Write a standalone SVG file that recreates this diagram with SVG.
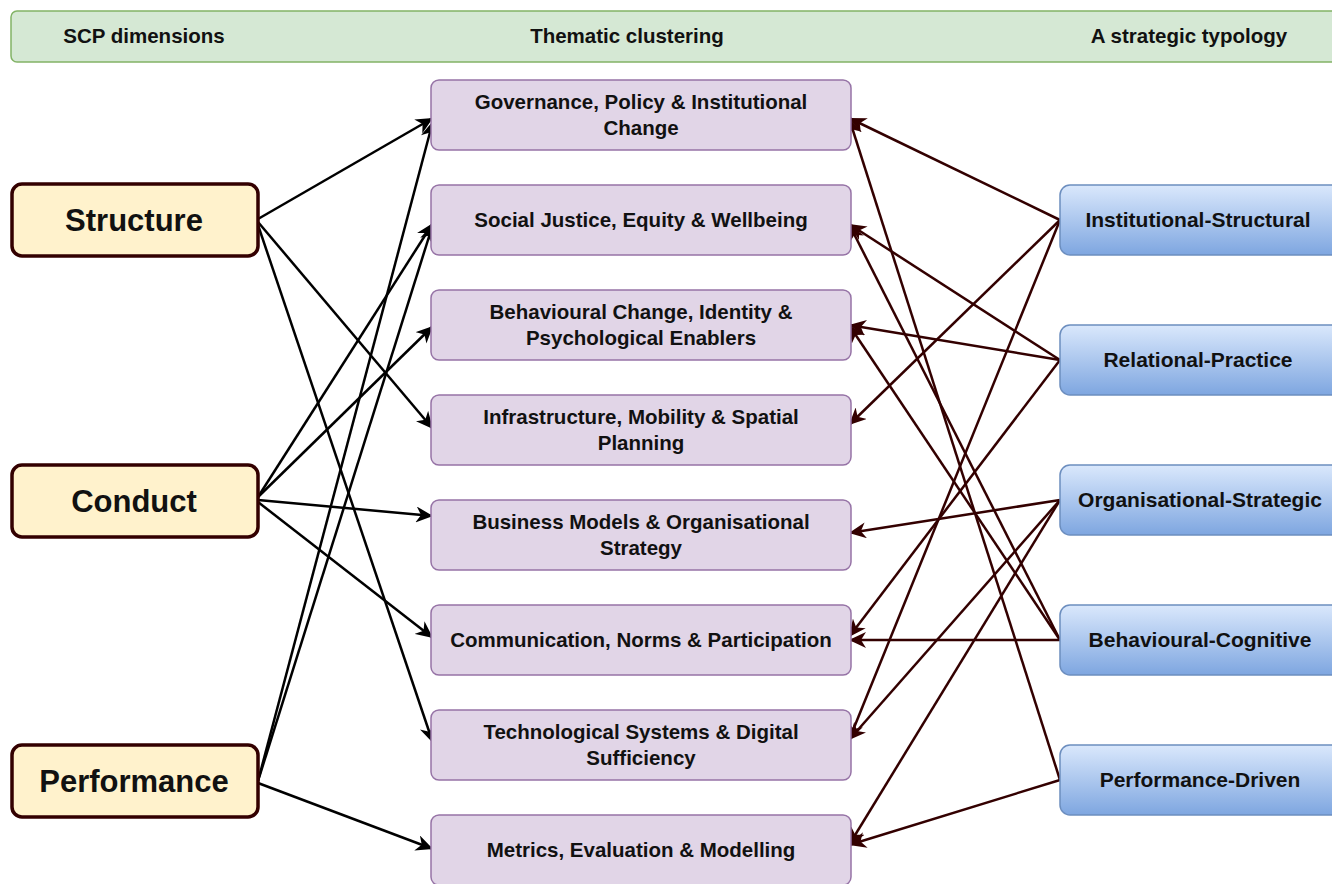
<svg xmlns="http://www.w3.org/2000/svg" width="1332" height="884" viewBox="0 0 1332 884">
<style>
text{font-family:"Liberation Sans",Arial,Helvetica,sans-serif;font-weight:bold;fill:#111;text-anchor:middle}
.hdr{fill:#d5e8d4;stroke:#82b366;stroke-width:1.5}
.scp rect{fill:#fff2cc;stroke:#330000;stroke-width:3.5}
.scp text{font-size:31px}
.th rect{fill:#e1d5e7;stroke:#9673a6;stroke-width:1.5}
.th text{font-size:20.5px}
.ty rect{fill:url(#blue);stroke:#6c8ebf;stroke-width:1.5}
.ty text{font-size:21px}
.hdr-t{font-size:20.5px}
.lk{stroke:#000;stroke-width:2.5;fill:none;marker-end:url(#ab)}
.rk{stroke:#330000;stroke-width:2.5;fill:none;marker-end:url(#ar)}
</style>
<defs>
<linearGradient id="blue" x1="0" y1="0" x2="0" y2="1">
<stop offset="0" stop-color="#dae8fc"/>
<stop offset="1" stop-color="#7ea6e0"/>
</linearGradient>
<marker id="ab" markerUnits="userSpaceOnUse" markerWidth="18" markerHeight="16" refX="17" refY="8" orient="auto">
<path d="M0,0 L17,8 L0,16 L5,8 z" fill="#000"/>
</marker>
<marker id="ar" markerUnits="userSpaceOnUse" markerWidth="18" markerHeight="16" refX="17" refY="8" orient="auto">
<path d="M0,0 L17,8 L0,16 L5,8 z" fill="#330000"/>
</marker>
</defs>
<rect width="1332" height="884" fill="#fff"/>

<g id="header">
<rect class="hdr" x="11" y="11" width="1340" height="51" rx="6"/>
<text class="hdr-t" x="144" y="43">SCP dimensions</text>
<text class="hdr-t" x="627" y="43">Thematic clustering</text>
<text class="hdr-t" x="1189" y="43">A strategic typology</text>
</g>

<g id="connectors">
<line class="lk" x1="258" y1="219" x2="433" y2="118"/>
<line class="lk" x1="258" y1="222" x2="433" y2="429"/>
<line class="lk" x1="258" y1="225" x2="433" y2="743"/>
<line class="lk" x1="258" y1="497" x2="433" y2="223"/>
<line class="lk" x1="258" y1="497" x2="433" y2="326"/>
<line class="lk" x1="258" y1="500" x2="433" y2="516"/>
<line class="lk" x1="258" y1="502" x2="433" y2="638"/>
<line class="lk" x1="258" y1="781" x2="433" y2="121"/>
<line class="lk" x1="258" y1="781" x2="433" y2="224"/>
<line class="lk" x1="258" y1="783" x2="433" y2="849"/>

<line class="rk" x1="1060" y1="220" x2="849" y2="118"/>
<line class="rk" x1="1060" y1="220" x2="849" y2="425"/>
<line class="rk" x1="1060" y1="220" x2="849" y2="740"/>
<line class="rk" x1="1060" y1="360" x2="849" y2="224"/>
<line class="rk" x1="1060" y1="360" x2="849" y2="325"/>
<line class="rk" x1="1060" y1="360" x2="849" y2="637"/>
<line class="rk" x1="1060" y1="500" x2="849" y2="533"/>
<line class="rk" x1="1060" y1="500" x2="849" y2="740"/>
<line class="rk" x1="1060" y1="500" x2="849" y2="845"/>
<line class="rk" x1="1060" y1="640" x2="849" y2="224"/>
<line class="rk" x1="1060" y1="640" x2="849" y2="325"/>
<line class="rk" x1="1060" y1="640" x2="849" y2="640"/>
<line class="rk" x1="1060" y1="780" x2="849" y2="118"/>
<line class="rk" x1="1060" y1="780" x2="849" y2="845"/>
</g>

<g id="structure" class="scp"><rect x="12" y="184" width="246" height="72" rx="10"/><text x="134" y="231">Structure</text></g>
<g id="conduct" class="scp"><rect x="12" y="465" width="246" height="72" rx="10"/><text x="134" y="512">Conduct</text></g>
<g id="performance" class="scp"><rect x="12" y="745" width="246" height="72" rx="10"/><text x="134" y="792">Performance</text></g>

<g id="governance" class="th"><rect x="431" y="80" width="420" height="70" rx="8"/><text x="641" y="109">Governance, Policy &amp; Institutional</text><text x="641" y="135">Change</text></g>
<g id="social" class="th"><rect x="431" y="185" width="420" height="70" rx="8"/><text x="641" y="227">Social Justice, Equity &amp; Wellbeing</text></g>
<g id="behavioural" class="th"><rect x="431" y="290" width="420" height="70" rx="8"/><text x="641" y="319">Behavioural Change, Identity &amp;</text><text x="641" y="345">Psychological Enablers</text></g>
<g id="infrastructure" class="th"><rect x="431" y="395" width="420" height="70" rx="8"/><text x="641" y="424">Infrastructure, Mobility &amp; Spatial</text><text x="641" y="450">Planning</text></g>
<g id="business" class="th"><rect x="431" y="500" width="420" height="70" rx="8"/><text x="641" y="529">Business Models &amp; Organisational</text><text x="641" y="555">Strategy</text></g>
<g id="communication" class="th"><rect x="431" y="605" width="420" height="70" rx="8"/><text x="641" y="647">Communication, Norms &amp; Participation</text></g>
<g id="technological" class="th"><rect x="431" y="710" width="420" height="70" rx="8"/><text x="641" y="739">Technological Systems &amp; Digital</text><text x="641" y="765">Sufficiency</text></g>
<g id="metrics" class="th"><rect x="431" y="815" width="420" height="70" rx="8"/><text x="641" y="857">Metrics, Evaluation &amp; Modelling</text></g>

<g id="institutional" class="ty"><rect x="1060" y="185" width="290" height="70" rx="10"/><text x="1198" y="227">Institutional-Structural</text></g>
<g id="relational" class="ty"><rect x="1060" y="325" width="290" height="70" rx="10"/><text x="1198" y="367">Relational-Practice</text></g>
<g id="organisational" class="ty"><rect x="1060" y="465" width="290" height="70" rx="10"/><text x="1200" y="507">Organisational-Strategic</text></g>
<g id="behavioural-cognitive" class="ty"><rect x="1060" y="605" width="290" height="70" rx="10"/><text x="1200" y="647">Behavioural-Cognitive</text></g>
<g id="performance-driven" class="ty"><rect x="1060" y="745" width="290" height="70" rx="10"/><text x="1200" y="787">Performance-Driven</text></g>
</svg>
